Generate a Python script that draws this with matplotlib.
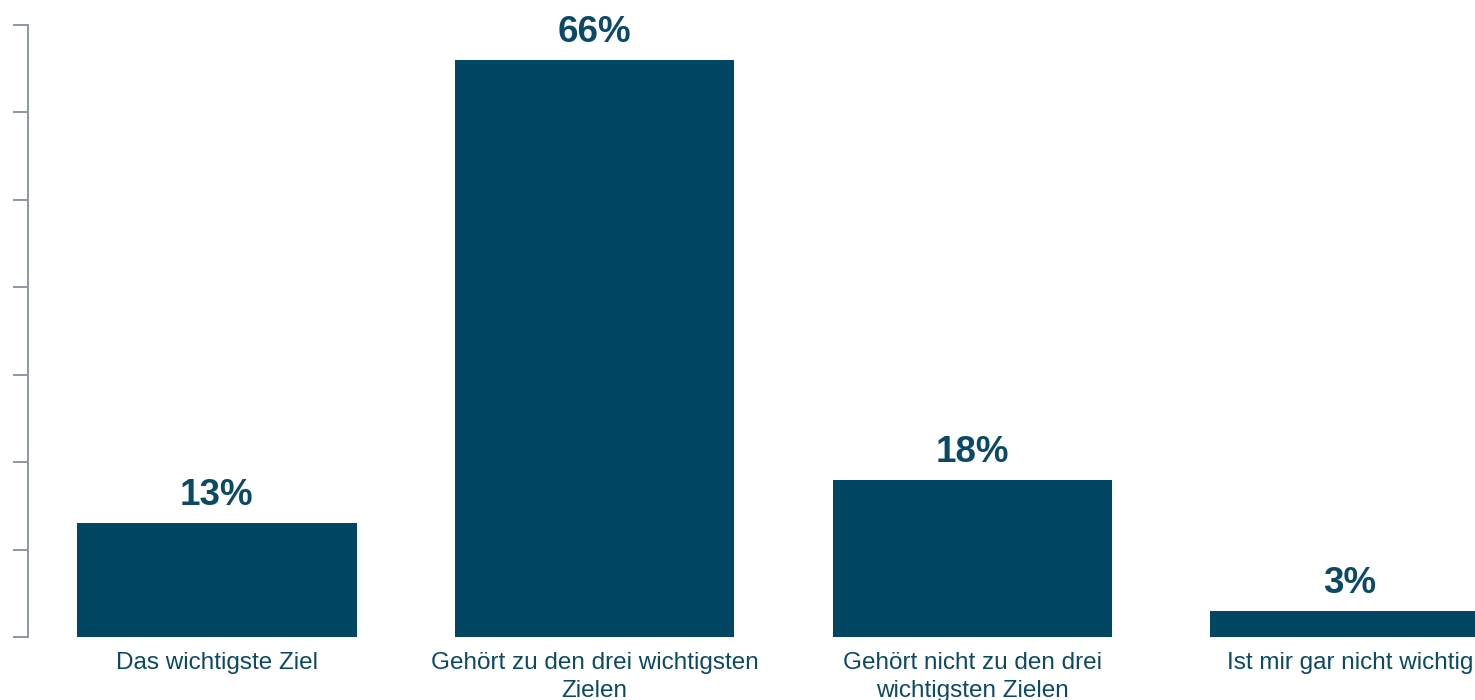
import matplotlib.pyplot as plt
import numpy as np

plt.rcParams['font.family'] = ['Liberation Sans', 'DejaVu Sans']

categories = ["Das wichtigste Ziel",
              "Gehört zu den drei wichtigsten\nZielen",
              "Gehört nicht zu den drei\nwichtigsten Zielen",
              "Ist mir gar nicht wichtig"]
values = [13, 66, 18, 3]

BAR = "#014763"
TXT = "#0b4a66"
AXIS = "#8d9aa6"

fig = plt.figure(figsize=(14.75, 7), dpi=100)
ax = fig.add_axes([28 / 1475, 63 / 700, 1511 / 1475, 612 / 700])

xs = np.arange(len(values))
bars = ax.bar(xs, values, width=0.74, color=BAR)

for x, v in zip(xs, values):
    ax.annotate(f"{v}%", (x, v), xytext=(0, 13), textcoords="offset points",
                ha="center", va="baseline", fontsize=26.5, fontweight="bold", color=TXT)

ax.set_xlim(-0.5, 3.5)
ax.set_ylim(0, 70)
ax.set_yticks(range(0, 71, 10))
ax.set_yticklabels([])
ax.set_xticks(xs)
ax.set_xticklabels(categories, fontsize=17.5, color=TXT, linespacing=1.35)
ax.tick_params(axis="x", length=0, pad=10.5)
ax.tick_params(axis="y", length=10.8, width=1.44, color=AXIS)

for s in ["top", "right", "bottom"]:
    ax.spines[s].set_visible(False)
ax.spines["left"].set_color(AXIS)
ax.spines["left"].set_linewidth(1.44)

fig.savefig("out.png", dpi=100)
